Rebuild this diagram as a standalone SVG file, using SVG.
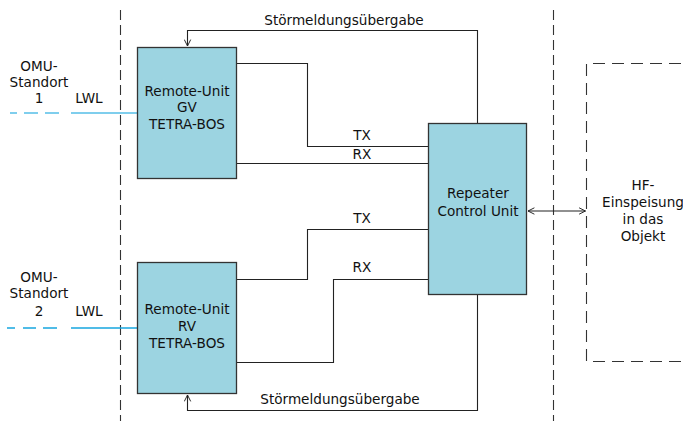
<svg xmlns="http://www.w3.org/2000/svg" width="683" height="421" viewBox="0 0 683 421">
<style>
text{font-family:"DejaVu Sans","Liberation Sans",sans-serif;font-size:13.6px;fill:#111;text-anchor:middle}
.box{fill:#9cd4e1;stroke:#333;stroke-width:1.3}
.ln{fill:none;stroke:#222;stroke-width:1.1}
.dash{fill:none;stroke:#333;stroke-width:1.1;stroke-dasharray:10 5}
.dbox{fill:none;stroke:#333;stroke-width:1.1;stroke-dasharray:12 7}
</style>
<defs>
<marker id="ah" viewBox="0 0 10 10" refX="9" refY="5" markerWidth="8" markerHeight="8" orient="auto-start-reverse" markerUnits="userSpaceOnUse">
<path d="M1,1 L9,5 L1,9" fill="none" stroke="#222" stroke-width="1.2"/>
</marker>
</defs>
<g id="boundaries">
<line class="dash" x1="120.5" y1="10" x2="120.5" y2="421"/>
<line class="dash" x1="553.5" y1="10" x2="553.5" y2="421"/>
</g>
<g id="hf-area">
<path class="dbox" d="M700,63.5 H586.5 V361.5 H700"/>
<text x="643" y="190">HF-</text>
<text x="643" y="207">Einspeisung</text>
<text x="643" y="224">in das</text>
<text x="643" y="241">Objekt</text>
</g>
<g id="connectors">
<path class="ln" d="M477.5,123 V30.5 H187.5 V46" marker-end="url(#ah)"/>
<path class="ln" d="M477.5,295 V410.5 H187.5 V395" marker-end="url(#ah)"/>
<path class="ln" d="M237,63.5 H307.5 V146.5 H428"/>
<path class="ln" d="M237,163.5 H428"/>
<path class="ln" d="M237,279.5 H307.5 V229.5 H428"/>
<path class="ln" d="M237,362.5 H333.5 V279.5 H428"/>
<line class="ln" x1="528" y1="211" x2="585.5" y2="211" marker-start="url(#ah)" marker-end="url(#ah)"/>
<path d="M10,113 H137" fill="none" stroke="#56bfe8" stroke-width="1.3" stroke-dasharray="7 7 14 7 14 12 66 0"/>
<path d="M7,328 H137" fill="none" stroke="#17a6df" stroke-width="1.3" stroke-dasharray="8 8 13 7 14 14 66 0"/>
<text x="344" y="25">Störmeldungsübergabe</text>
<text x="340" y="404">Störmeldungsübergabe</text>
<text x="362" y="140">TX</text>
<text x="362" y="159">RX</text>
<text x="362" y="223">TX</text>
<text x="362" y="272">RX</text>
</g>
<g id="omu1">
<text x="39" y="71">OMU-</text>
<text x="39" y="87">Standort</text>
<text x="39" y="103">1</text>
<text x="89" y="103">LWL</text>
</g>
<g id="omu2">
<text x="39" y="282">OMU-</text>
<text x="39" y="298">Standort</text>
<text x="39" y="316">2</text>
<text x="89" y="316">LWL</text>
</g>
<g id="remote-gv">
<rect class="box" x="137.5" y="47.5" width="99" height="131"/>
<text x="187" y="96">Remote-Unit</text>
<text x="187" y="112">GV</text>
<text x="187" y="129">TETRA-BOS</text>
</g>
<g id="remote-rv">
<rect class="box" x="137.5" y="262.5" width="99" height="131"/>
<text x="187" y="314">Remote-Unit</text>
<text x="187" y="331">RV</text>
<text x="187" y="348">TETRA-BOS</text>
</g>
<g id="rcu">
<rect class="box" x="428.5" y="123.5" width="98" height="171"/>
<text x="478" y="198">Repeater</text>
<text x="478" y="216">Control Unit</text>
</g>
</svg>
